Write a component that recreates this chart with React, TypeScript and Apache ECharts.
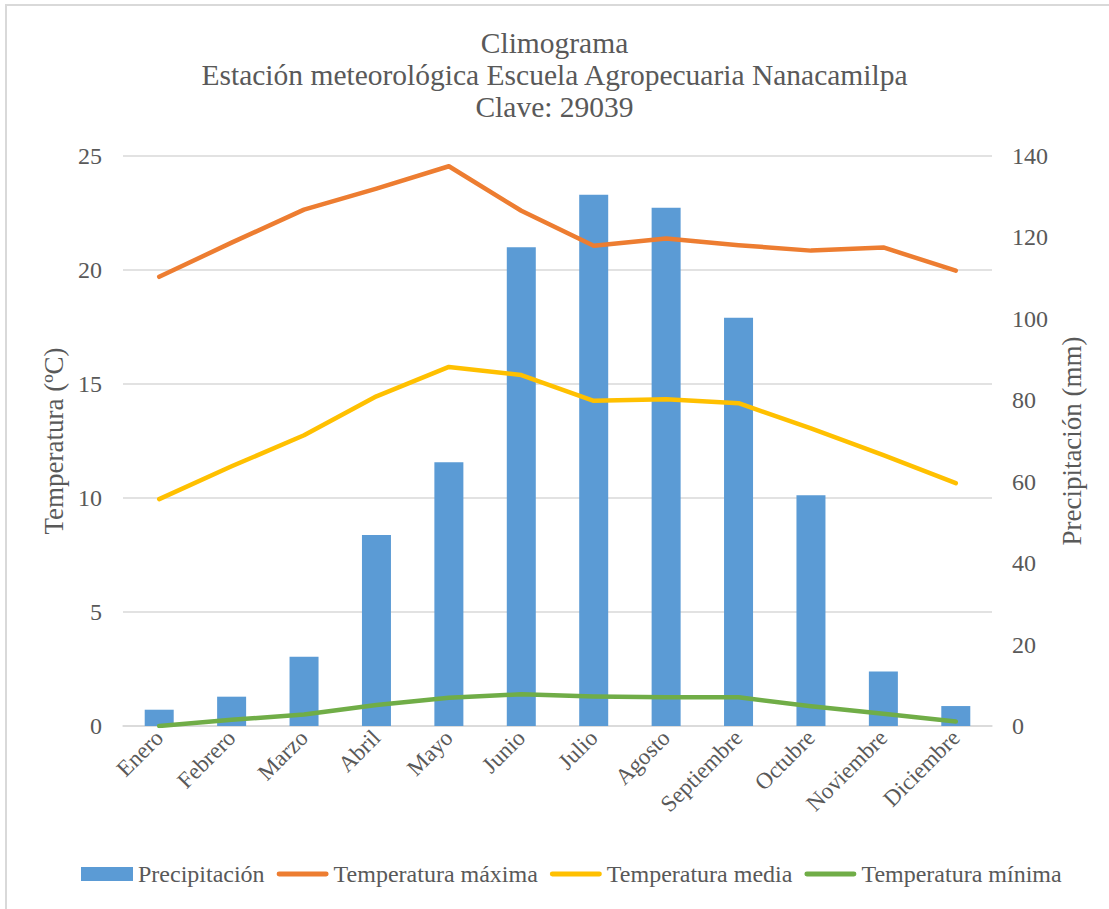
import React, { useEffect, useRef } from "react";
import * as echarts from "echarts";

const months = [
  "Enero", "Febrero", "Marzo", "Abril", "Mayo", "Junio",
  "Julio", "Agosto", "Septiembre", "Octubre", "Noviembre", "Diciembre",
];
const precipitacion = [4.0, 7.2, 17.0, 46.9, 64.8, 117.6, 130.5, 127.3, 100.3, 56.7, 13.4, 4.9];
const tempMax = [19.7, 21.2, 22.65, 23.57, 24.55, 22.6, 21.06, 21.38, 21.09, 20.85, 20.99, 19.97];
const tempMedia = [9.95, 11.39, 12.75, 14.46, 15.75, 15.39, 14.26, 14.33, 14.16, 13.05, 11.88, 10.65];
const tempMin = [0.0, 0.27, 0.5, 0.92, 1.24, 1.39, 1.29, 1.26, 1.26, 0.87, 0.54, 0.2];

const titleLines = [
  "Climograma",
  "Estación meteorológica Escuela Agropecuaria Nanacamilpa",
  "Clave: 29039",
];

const FONT = "Liberation Serif";
const TEXT = "#595959";
const GRID = "#D9D9D9";
// thin horizontal bar used as the legend key of the temperature lines
const LINE_ICON = "path://M2,0 H50 A2.5,2.5 0 0 1 50,5 H2 A2.5,2.5 0 0 1 2,0 Z";

export default function App() {
  const ref = useRef<HTMLDivElement>(null);

  useEffect(() => {
    if (!ref.current) return;
    const chart = echarts.init(ref.current, undefined, { renderer: "svg" });

    const lineSeries = (name: string, data: number[], color: string) => ({
      name,
      type: "line",
      data,
      yAxisIndex: 0,
      symbol: "none",
      smooth: false,
      lineStyle: { color, width: 4.5, cap: "round", join: "round" },
      itemStyle: { color },
      z: 3,
    });

    chart.setOption({
      animation: false,
      backgroundColor: "#ffffff",
      textStyle: { fontFamily: FONT, color: TEXT },
      title: {
        text: titleLines.join("\n"),
        left: "center",
        top: 22,
        textStyle: {
          fontFamily: FONT,
          fontWeight: "normal",
          fontSize: 29.5,
          lineHeight: 32,
          color: TEXT,
        },
      },
      graphic: [
        {
          type: "rect",
          shape: { x: 6, y: 5, width: 1200, height: 1000 },
          style: { fill: "none", stroke: GRID, lineWidth: 2 },
          silent: true,
          z: -10,
        },
      ],
      grid: { left: 123, right: 117, top: 156, bottom: 183 },
      legend: {
        bottom: 18,
        left: 76,
        itemWidth: 52,
        itemHeight: 14,
        itemGap: 12,
        textStyle: { fontFamily: FONT, fontSize: 24, color: TEXT },
        data: [
          { name: "Precipitación", icon: "rect" },
          { name: "Temperatura máxima", icon: LINE_ICON },
          { name: "Temperatura media", icon: LINE_ICON },
          { name: "Temperatura mínima", icon: LINE_ICON },
        ],
      },
      xAxis: {
        type: "category",
        data: months,
        axisLine: { show: true, lineStyle: { color: GRID, width: 1.5 } },
        axisTick: { show: false },
        axisLabel: {
          rotate: 45,
          interval: 0,
          margin: 8,
          fontFamily: FONT,
          fontSize: 23,
          color: TEXT,
        },
      },
      yAxis: [
        {
          type: "value",
          min: 0,
          max: 25,
          interval: 5,
          name: "Temperatura (ºC)",
          nameLocation: "middle",
          nameGap: 54,
          nameTextStyle: { fontFamily: FONT, fontSize: 27, color: TEXT },
          axisLine: { show: false },
          axisTick: { show: false },
          axisLabel: { margin: 21, fontFamily: FONT, fontSize: 24, color: TEXT },
          splitLine: { lineStyle: { color: GRID, width: 1.5 } },
        },
        {
          type: "value",
          min: 0,
          max: 140,
          interval: 20,
          name: "Precipitación (mm)",
          nameLocation: "middle",
          nameGap: 66,
          nameTextStyle: { fontFamily: FONT, fontSize: 27, color: TEXT },
          axisLine: { show: false },
          axisTick: { show: false },
          axisLabel: { margin: 20, fontFamily: FONT, fontSize: 24, color: TEXT },
          splitLine: { show: false },
        },
      ],
      series: [
        {
          name: "Precipitación",
          type: "bar",
          data: precipitacion,
          yAxisIndex: 1,
          barWidth: 29,
          itemStyle: { color: "#5B9BD5" },
          z: 2,
        },
        lineSeries("Temperatura máxima", tempMax, "#ED7D31"),
        lineSeries("Temperatura media", tempMedia, "#FFC000"),
        lineSeries("Temperatura mínima", tempMin, "#70AD47"),
      ],
    });

    return () => chart.dispose();
  }, []);

  return (
    <div
      ref={ref}
      style={{ position: "absolute", left: 0, top: 0, width: 1109, height: 909 }}
    />
  );
}
